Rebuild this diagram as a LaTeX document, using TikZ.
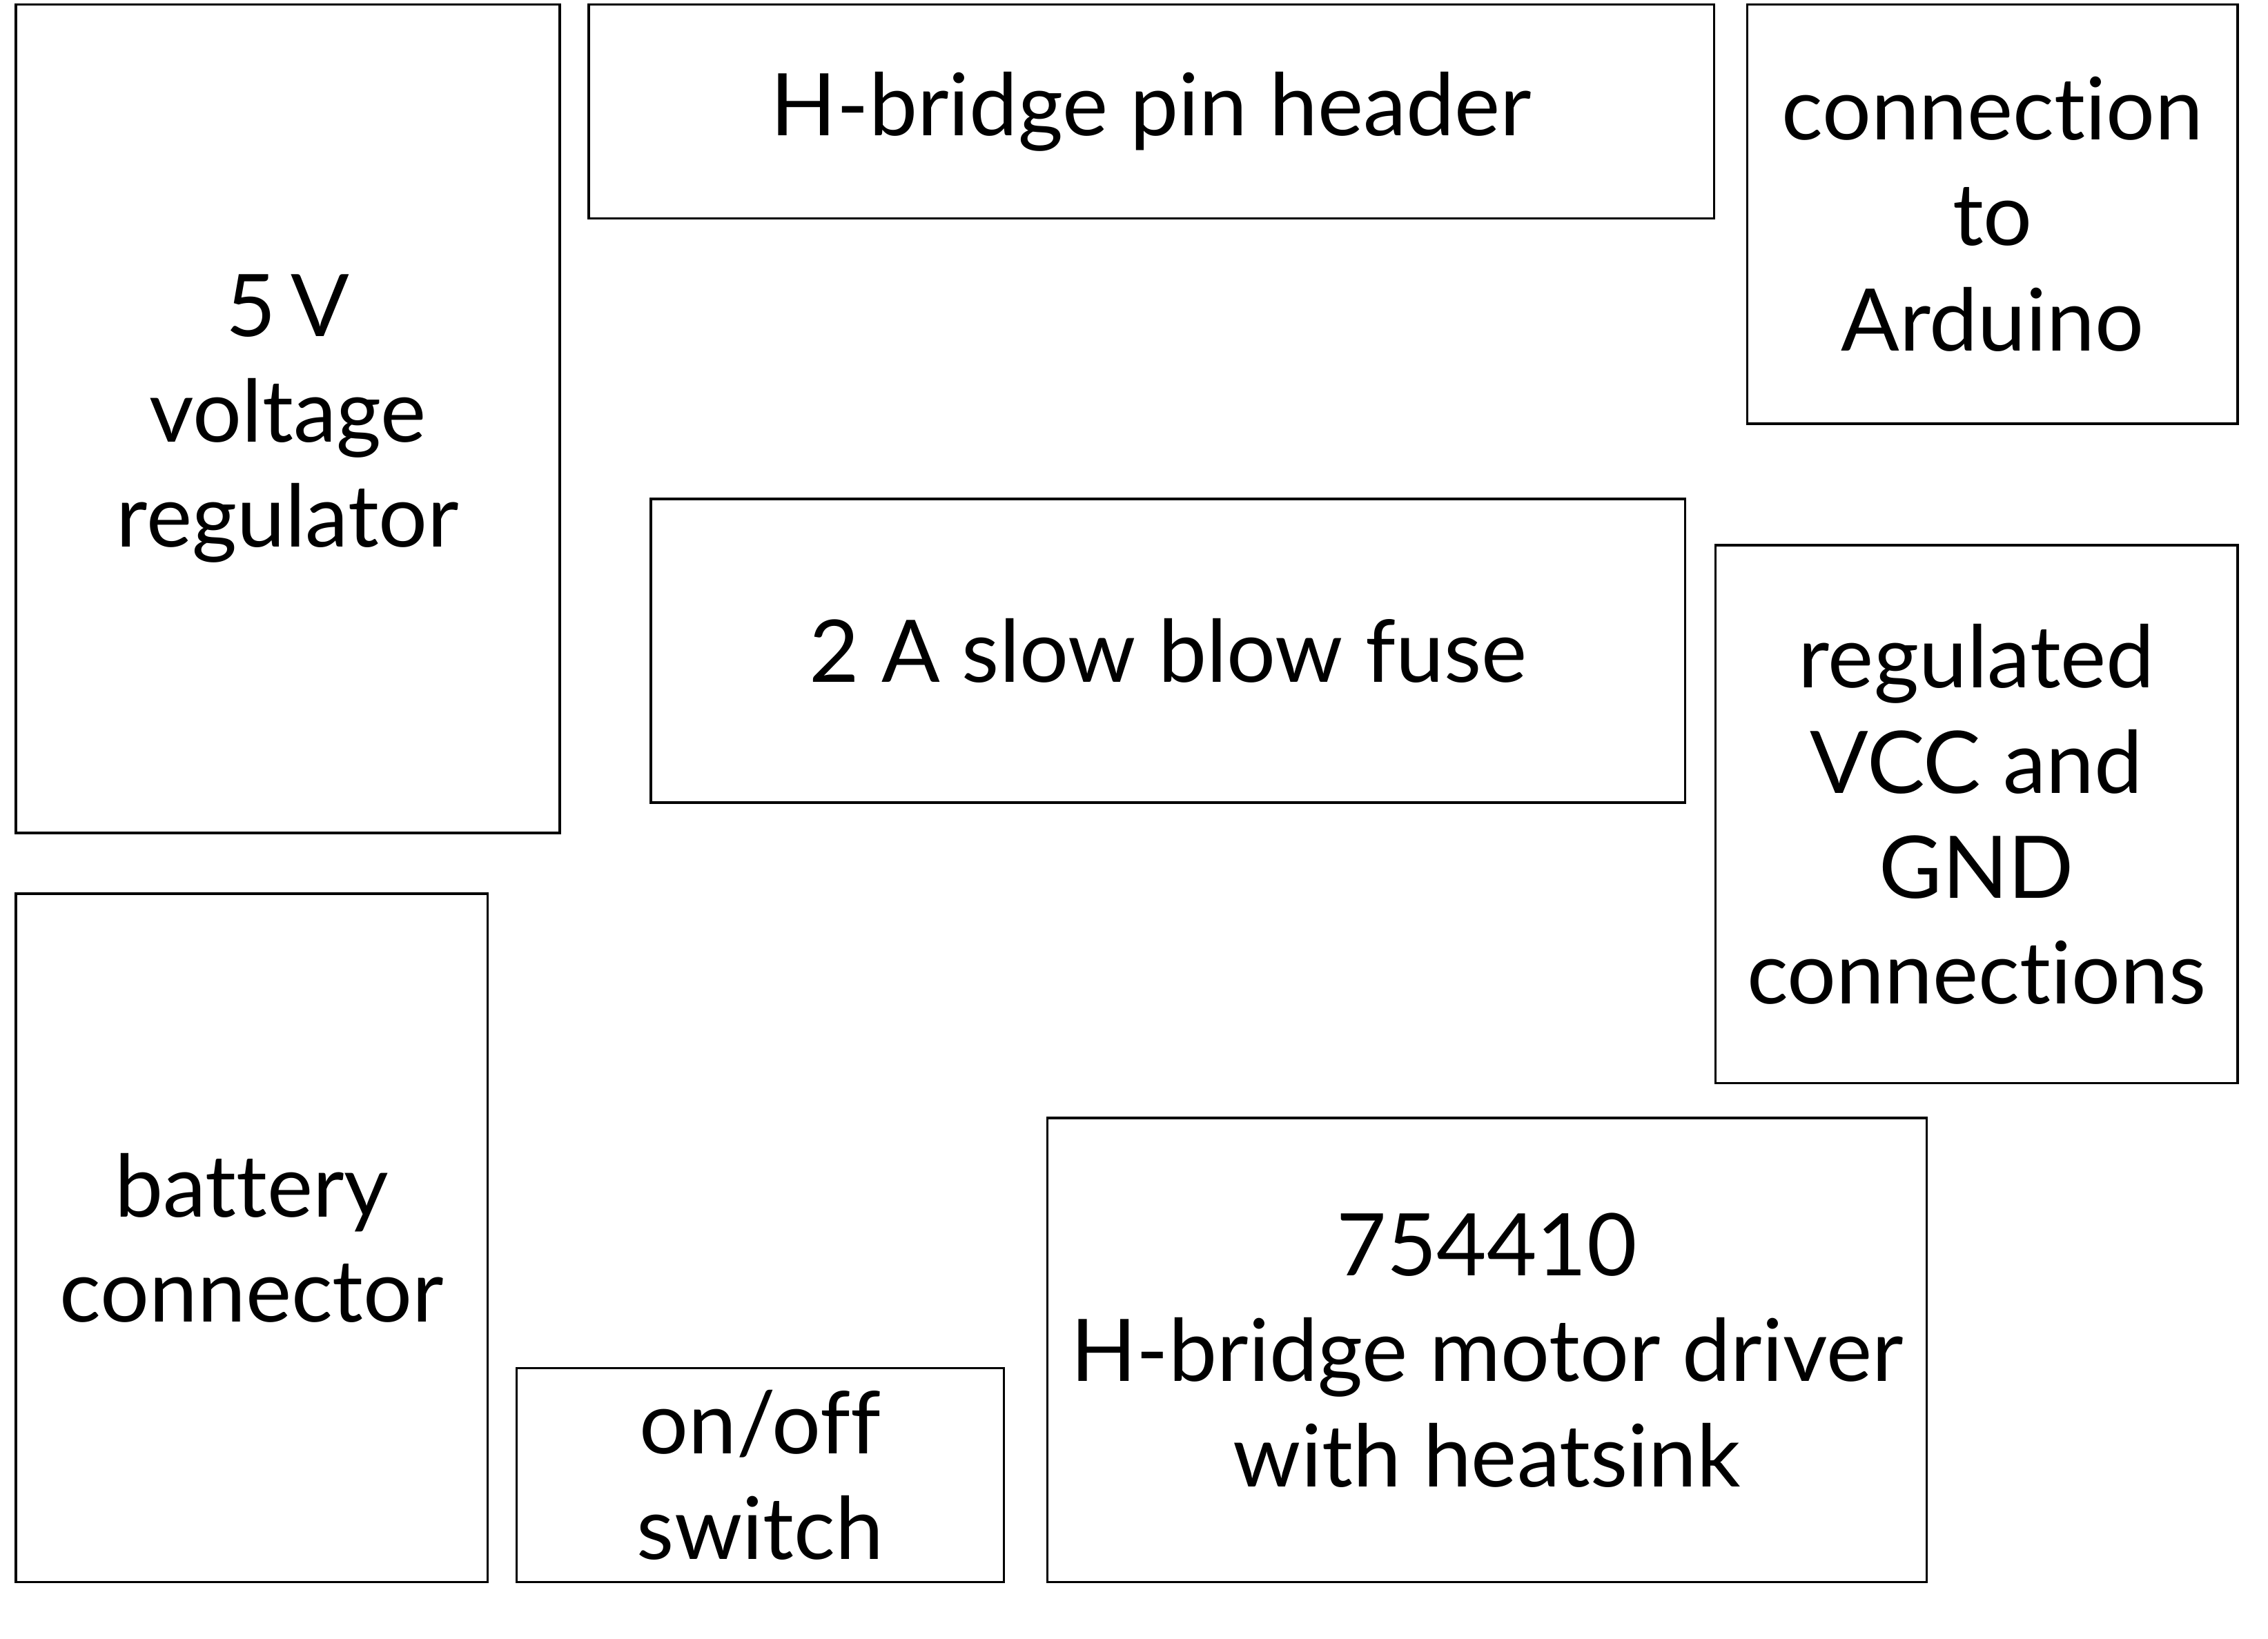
\documentclass[tikz,border=0pt]{standalone}
\usepackage{fontspec}
\setmainfont{Lato}[Ligatures=NoCommon]
\definecolor{blkedge}{HTML}{000000}
\tikzset{
  blk/.style={
    draw=blkedge,
    line width=0.9pt,
    inner sep=0pt,
    align=center,
    font=\fontsize{34}{41.5}\selectfont
  }
}

\begin{document}
\begin{tikzpicture}[x=1cm, y=1cm]

  \useasboundingbox (0,0) rectangle (31.36,-22.66);

  % --------------------------------------------------------------------
  % left column
  % --------------------------------------------------------------------

  \node[blk, minimum width=7.52cm, minimum height=11.46cm]
    (reg) at (3.98,-5.79) {5\,V\\voltage\\regulator};

  \node[blk, minimum width=6.52cm, minimum height=9.52cm]
    (batt) at (3.48,-17.12) {battery\\connector};

  % --------------------------------------------------------------------
  % middle
  % --------------------------------------------------------------------

  \node[blk, minimum width=15.56cm, minimum height=2.96cm]
    (header) at (15.92,-1.54) {H-bridge pin header};

  \node[blk, minimum width=14.30cm, minimum height=4.20cm]
    (fuse) at (16.15,-9.00) {2 A slow blow fuse};

  \node[blk, minimum width=6.74cm, minimum height=2.96cm]
    (switch) at (10.51,-20.40) {on/off\\switch};

  \node[blk, minimum width=12.16cm, minimum height=6.42cm]
    (driver) at (20.56,-18.67) {754410\\H-bridge motor driver\\with heatsink};

  % --------------------------------------------------------------------
  % right column
  % --------------------------------------------------------------------

  \node[blk, minimum width=6.78cm, minimum height=5.80cm]
    (arduino) at (27.55,-2.96) {connection\\to\\Arduino};

  \node[blk, minimum width=7.22cm, minimum height=7.44cm]
    (vcc) at (27.33,-11.26) {regulated\\VCC and\\GND\\connections};

\end{tikzpicture}
\end{document}
